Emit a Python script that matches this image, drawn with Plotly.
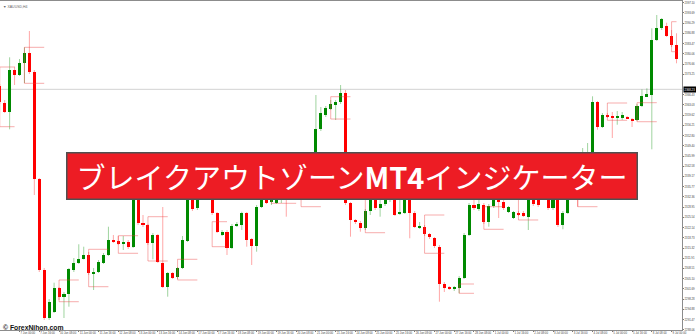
import plotly.graph_objects as go

# ---------------- data (XAUUSD H4) ----------------
OPEN = [2369.33, 2363.77, 2360.77, 2374.67, 2373.00, 2377.10, 2380.43, 2374.10, 2338.33, 2308.00,
        2291.90, 2294.10, 2301.90, 2298.90, 2299.90, 2308.00, 2310.23, 2311.77, 2313.00, 2306.90,
        2307.43, 2310.43, 2313.00, 2318.00, 2317.67, 2316.90, 2317.23, 2315.77, 2338.00, 2323.57,
        2323.00, 2316.90, 2319.67, 2310.23, 2302.23, 2306.90, 2305.57, 2308.57, 2317.77, 2338.67,
        2328.57, 2334.33, 2336.67, 2332.67, 2326.90, 2319.67, 2320.77, 2315.23, 2322.90, 2323.00,
        2326.90, 2318.23, 2316.10, 2329.10, 2332.67, 2330.67, 2330.43, 2331.67, 2334.00, 2333.00,
        2336.00, 2338.00, 2340.00, 2338.67, 2342.00, 2354.90, 2359.67, 2361.67, 2363.00, 2363.90,
        2367.10, 2330.23, 2324.67, 2323.77, 2321.90, 2327.77, 2333.00, 2328.57, 2330.00, 2331.67,
        2333.67, 2326.67, 2327.10, 2333.00, 2327.10, 2322.23, 2322.43, 2320.00, 2318.57, 2315.77,
        2303.33, 2302.10, 2301.77, 2302.10, 2305.43, 2319.67, 2329.67, 2328.23, 2329.67, 2324.10,
        2329.33, 2332.67, 2330.77, 2327.33, 2325.33, 2327.10, 2327.10, 2325.77, 2332.67, 2332.33,
        2333.00, 2332.67, 2328.57, 2332.33, 2323.00, 2326.90, 2332.33, 2335.33, 2334.67, 2344.67,
        2345.33, 2364.00, 2355.57, 2359.77, 2359.23, 2358.67, 2358.67, 2358.90, 2358.43, 2357.90,
        2362.67, 2365.77, 2366.33, 2384.67, 2388.57, 2389.33, 2386.10, 2383.00]

HIGH = [2370.00, 2364.67, 2378.90, 2375.77, 2378.33, 2382.23, 2387.67, 2374.67, 2338.67, 2308.67,
        2298.33, 2303.77, 2302.33, 2300.67, 2308.67, 2312.00, 2316.57, 2315.77, 2314.00, 2308.67,
        2311.33, 2313.67, 2322.43, 2319.67, 2319.33, 2319.33, 2318.00, 2339.33, 2338.67, 2326.33,
        2323.33, 2320.33, 2320.00, 2329.00, 2307.33, 2307.33, 2309.00, 2319.33, 2341.33, 2340.67,
        2336.00, 2338.00, 2338.67, 2334.67, 2327.33, 2321.33, 2321.33, 2323.33, 2324.00, 2327.43,
        2327.33, 2318.67, 2329.67, 2333.00, 2334.67, 2334.00, 2333.00, 2335.33, 2336.33, 2337.33,
        2338.67, 2341.33, 2343.00, 2344.00, 2366.33, 2362.33, 2362.67, 2364.67, 2364.67, 2369.67,
        2368.00, 2330.67, 2325.00, 2324.33, 2328.33, 2333.00, 2334.00, 2331.33, 2333.00, 2335.33,
        2334.67, 2331.33, 2333.67, 2334.00, 2327.67, 2324.00, 2323.00, 2320.33, 2319.00, 2316.33,
        2304.00, 2302.67, 2302.67, 2306.00, 2320.33, 2330.33, 2331.33, 2331.33, 2330.33, 2330.00,
        2333.00, 2333.67, 2331.33, 2329.33, 2327.67, 2327.67, 2327.67, 2333.33, 2333.67, 2333.00,
        2334.67, 2333.67, 2333.33, 2333.33, 2327.67, 2333.00, 2336.33, 2338.00, 2348.67, 2350.33,
        2365.90, 2364.33, 2360.33, 2360.33, 2360.67, 2361.00, 2360.67, 2359.33, 2358.67, 2363.33,
        2368.23, 2368.57, 2388.57, 2393.00, 2392.00, 2390.43, 2388.00, 2386.90]

LOW = [2363.33, 2360.33, 2354.90, 2369.67, 2372.67, 2370.33, 2373.33, 2333.00, 2307.33, 2291.33,
       2291.33, 2293.67, 2298.00, 2292.00, 2295.77, 2307.33, 2310.00, 2311.50, 2306.33, 2301.33,
       2307.00, 2310.00, 2312.67, 2317.00, 2316.33, 2314.67, 2315.00, 2315.33, 2323.00, 2322.33,
       2316.33, 2311.57, 2310.33, 2302.00, 2299.10, 2305.00, 2305.00, 2308.33, 2317.33, 2327.67,
       2328.00, 2332.67, 2332.00, 2326.33, 2320.33, 2319.33, 2313.00, 2315.00, 2322.33, 2321.33,
       2315.77, 2309.67, 2314.10, 2328.67, 2330.00, 2329.67, 2330.00, 2330.33, 2325.77, 2332.00,
       2334.00, 2336.00, 2337.33, 2336.67, 2340.67, 2354.33, 2359.00, 2361.33, 2358.00, 2363.33,
       2329.67, 2319.10, 2323.33, 2320.77, 2321.33, 2326.33, 2328.00, 2325.77, 2329.33, 2330.67,
       2326.00, 2326.33, 2326.67, 2318.57, 2322.00, 2321.67, 2319.33, 2318.33, 2315.33, 2297.43,
       2300.67, 2301.33, 2301.00, 2300.23, 2305.00, 2319.33, 2328.00, 2327.67, 2323.33, 2322.43,
       2328.67, 2325.33, 2328.00, 2327.00, 2325.00, 2326.00, 2325.67, 2321.33, 2329.33, 2329.00,
       2331.33, 2328.00, 2328.00, 2322.33, 2321.57, 2326.67, 2331.33, 2329.10, 2334.00, 2341.33,
       2344.67, 2354.77, 2355.33, 2358.67, 2352.00, 2356.43, 2358.00, 2358.33, 2355.67, 2357.67,
       2362.33, 2365.67, 2348.23, 2384.33, 2388.00, 2385.67, 2382.33, 2376.90]

CLOSE = [2364.00, 2360.77, 2374.67, 2373.00, 2377.10, 2380.43, 2374.10, 2338.33, 2308.00, 2291.90,
         2297.43, 2301.90, 2298.90, 2299.90, 2308.23, 2310.23, 2311.77, 2313.00, 2306.90, 2307.43,
         2310.77, 2313.00, 2318.00, 2317.57, 2316.67, 2317.23, 2315.57, 2338.00, 2323.57, 2323.00,
         2317.10, 2319.67, 2310.77, 2302.23, 2306.90, 2305.43, 2308.57, 2318.00, 2339.67, 2328.23,
         2334.67, 2336.67, 2333.33, 2326.90, 2320.77, 2320.77, 2315.23, 2322.67, 2323.23, 2326.90,
         2318.00, 2316.10, 2329.10, 2331.57, 2330.43, 2332.33, 2331.67, 2334.00, 2333.00, 2336.00,
         2338.00, 2340.00, 2338.67, 2342.00, 2354.90, 2360.23, 2361.90, 2363.23, 2363.90, 2366.90,
         2330.23, 2324.67, 2323.90, 2321.90, 2327.77, 2332.00, 2328.57, 2330.00, 2331.67, 2334.00,
         2326.33, 2327.10, 2332.33, 2327.10, 2322.43, 2322.77, 2320.00, 2318.90, 2316.10, 2303.33,
         2301.90, 2301.77, 2302.23, 2305.43, 2319.67, 2329.67, 2328.57, 2330.00, 2324.10, 2329.33,
         2332.00, 2330.77, 2328.57, 2328.90, 2327.23, 2326.43, 2326.00, 2332.00, 2330.00, 2329.67,
         2332.00, 2328.57, 2332.00, 2323.00, 2326.90, 2332.00, 2335.33, 2334.67, 2344.67, 2346.33,
         2364.00, 2355.57, 2359.77, 2359.23, 2358.67, 2359.43, 2359.57, 2358.43, 2358.00, 2362.57,
         2366.00, 2366.67, 2384.67, 2388.77, 2391.57, 2386.10, 2383.00, 2378.23]

# Breakout-zone boxes (bar index from/to, upper and lower price)
ZONE_START = [0, 5, 12, 18, 24, 30, 36, 43, 55, 61, 67, 74, 86, 93, 98, 105, 117, 123, 129, 136]
ZONE_END = [3, 9, 16, 22, 28, 34, 40, 46, 60, 65, 71, 78, 90, 96, 102, 109, 121, 127, 133, 137]
ZONE_TOP = [2375.67, 2382.23, 2304.67, 2314.90, 2319.43, 2325.77, 2311.57, 2324.10, 2341.33, 2343.00,
            2365.77, 2334.67, 2326.33, 2303.33, 2329.10, 2332.67, 2341.33, 2363.67, 2363.77, 2390.77]
ZONE_BOTTOM = [2355.77, 2370.23, 2297.43, 2302.43, 2313.57, 2311.00, 2304.67, 2315.77, 2330.23, 2329.10,
               2358.33, 2320.43, 2313.57, 2300.23, 2321.57, 2324.67, 2329.10, 2357.90, 2357.43, 2380.77]

PRICE_LINE = 2368.23

X_TICK_BARS = [0, 4, 8, 12, 16, 20, 24, 28, 32, 36, 40, 44, 48, 52, 56, 60, 64, 68, 72, 76,
               80, 84, 88, 92, 96, 100, 104, 108, 112, 116, 120, 124, 128, 132, 136]
X_TICK_LABELS = ["6 Jun 2024", "7 Jun 00:00", "7 Jun 16:00", "10 Jun 08:00", "11 Jun 00:00",
                 "11 Jun 16:00", "12 Jun 08:00", "13 Jun 00:00", "13 Jun 16:00", "14 Jun 08:00",
                 "17 Jun 00:00", "17 Jun 16:00", "18 Jun 08:00", "19 Jun 00:00", "19 Jun 16:00",
                 "20 Jun 08:00", "21 Jun 00:00", "21 Jun 16:00", "24 Jun 08:00", "25 Jun 00:00",
                 "25 Jun 16:00", "26 Jun 08:00", "27 Jun 00:00", "27 Jun 16:00", "28 Jun 08:00",
                 "1 Jul 00:00", "1 Jul 16:00", "2 Jul 08:00", "3 Jul 00:00", "3 Jul 16:00",
                 "4 Jul 08:00", "5 Jul 00:00", "5 Jul 16:00", "8 Jul 08:00", "9 Jul 00:00"]

Y_TICKS = [2397.10, 2393.69, 2390.29, 2386.88, 2383.47, 2380.06, 2376.66, 2373.25, 2366.43,
           2363.03, 2359.62, 2356.21, 2352.80, 2349.40, 2345.99, 2342.58, 2339.17, 2335.77, 2332.36,
           2328.95, 2325.54, 2322.14, 2318.73, 2315.32, 2311.91, 2308.51, 2305.10, 2301.69, 2298.28,
           2294.88, 2291.47, 2288.06]

SYMBOL = "XAUUSD,H4"
BANNER_TEXT = "ブレイクアウトゾーン<b>MT4</b>インジケーター"
WATERMARK = "© ForexNihon.com"

# ---------------- styles ----------------
UP = "#008a00"
DOWN = "#ff0000"
UP_WICK = "rgba(0,140,0,0.38)"
DOWN_WICK = "rgba(255,0,0,0.35)"
ZONE_COLOR = "rgba(235,60,60,0.42)"

idx = list(range(len(OPEN)))
is_up = [c >= o for o, c in zip(OPEN, CLOSE)]

fig = go.Figure(layout=dict(template="none"))

# wicks
for up, col in ((True, UP_WICK), (False, DOWN_WICK)):
    xs, ys = [], []
    for i in idx:
        if is_up[i] == up:
            xs += [i, i, None]
            ys += [LOW[i], HIGH[i], None]
    fig.add_trace(go.Scatter(x=xs, y=ys, mode="lines", line=dict(color=col, width=1),
                             hoverinfo="skip", showlegend=False))

# zone boxes
zx, zy = [], []
for s, e, t, b in zip(ZONE_START, ZONE_END, ZONE_TOP, ZONE_BOTTOM):
    zx += [e, s, s, e, None]
    zy += [t, t, b, b, None]
fig.add_trace(go.Scatter(x=zx, y=zy, mode="lines", line=dict(color=ZONE_COLOR, width=1),
                         hoverinfo="skip", showlegend=False))

# bodies
bases = [min(o, c) for o, c in zip(OPEN, CLOSE)]
heights = [max(abs(c - o), 0.4) for o, c in zip(OPEN, CLOSE)]
fig.add_trace(go.Bar(x=idx, y=heights, base=bases, width=0.62,
                     marker=dict(color=[UP if u else DOWN for u in is_up], line=dict(width=0)),
                     hoverinfo="skip", showlegend=False))

fig.add_shape(type="line", xref="paper", x0=0, x1=1, yref="y", y0=PRICE_LINE, y1=PRICE_LINE,
              line=dict(color="#d2d2d2", width=1), layer="below")

tick_font = dict(family="Liberation Sans, Arial, sans-serif", size=2.8, color="#444444")

fig.update_layout(
    width=696, height=336,
    margin=dict(l=0, r=14, t=1, b=6, pad=0),
    paper_bgcolor="white", plot_bgcolor="white",
    showlegend=False, barmode="overlay", bargap=0,
    xaxis=dict(range=[0.05, 138.11], tickmode="array", tickvals=X_TICK_BARS, ticktext=X_TICK_LABELS,
               tickangle=0, ticks="outside", ticklen=1, tickcolor="#777777", tickwidth=1,
               showline=True, linecolor="#8c8c8c", linewidth=1, mirror=True,
               showgrid=False, zeroline=False, ticklabelposition="outside right",
               tickfont=tick_font, automargin=False, fixedrange=True),
    yaxis=dict(side="right", range=[2288.0, 2397.67], tickmode="array", tickvals=Y_TICKS,
               tickformat=".2f", ticks="outside", ticklen=1, tickcolor="#777777", tickwidth=1,
               showline=True, linecolor="#8c8c8c", linewidth=1,
               showgrid=False, zeroline=False, tickfont=tick_font, automargin=False, fixedrange=True),
    annotations=[
        dict(xref="paper", yref="paper", x=0.516, y=0.4696, xanchor="center", yanchor="middle",
             text=BANNER_TEXT, showarrow=False,
             font=dict(family="Noto Sans CJK JP", size=29, color="white"),
             bgcolor="#ED1C24", bordercolor="#505050", borderwidth=1.5, borderpad=0,
             width=569, height=45),
        dict(xref="paper", yref="y", x=1, y=PRICE_LINE, xanchor="left", yanchor="middle",
             text=f"{PRICE_LINE:.2f}", showarrow=False, xshift=1,
             font=dict(family="Liberation Sans, Arial, sans-serif", size=2.8, color="white"),
             bgcolor="black", borderpad=0.6),
        dict(xref="paper", yref="paper", x=0.002, y=0.0091, xanchor="left", yanchor="middle",
             text="<b>" + WATERMARK + "</b>", showarrow=False,
             font=dict(family="Liberation Sans, Arial, sans-serif", size=6.8, color="#111111")),
        dict(xref="paper", yref="paper", x=0.002, y=0.994, xanchor="left", yanchor="top",
             text="▼ " + SYMBOL, showarrow=False,
             font=dict(family="Liberation Sans, Arial, sans-serif", size=3.5, color="#666666")),
    ],
)

fig.write_html("out.html")
